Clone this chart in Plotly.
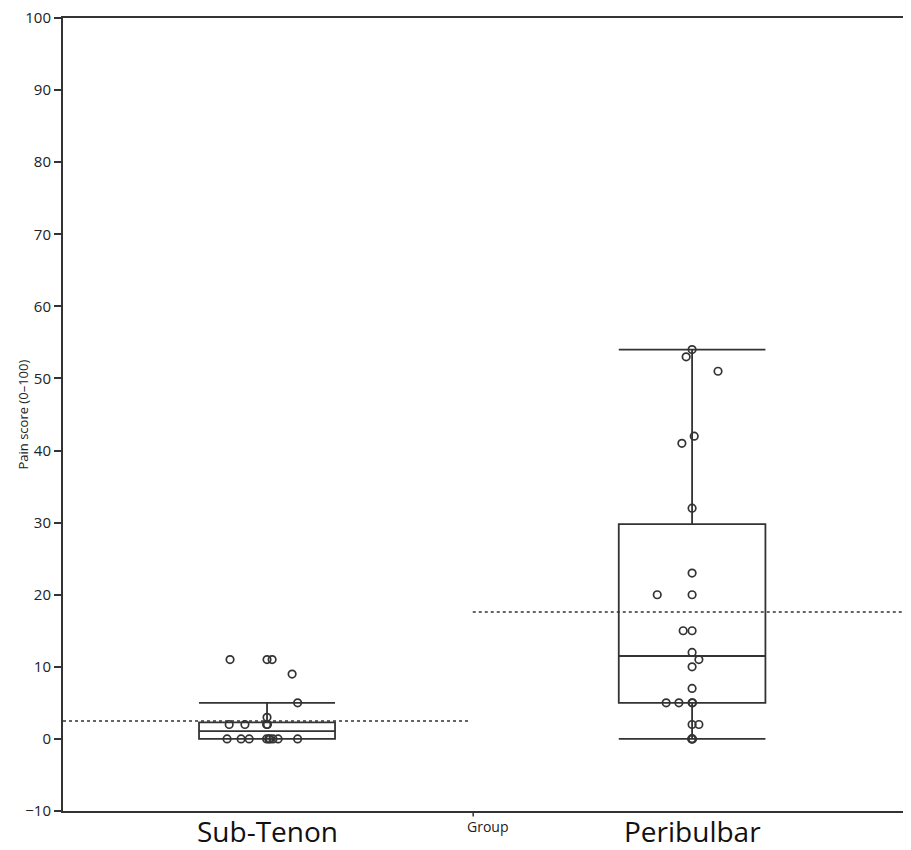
import plotly.graph_objects as go

# ---- data ----
groups = ["Sub-Tenon", "Peribulbar"]
group_pos = [0, 1]

subtenon_scores = [11, 11, 11, 9, 5, 3, 2, 2, 2, 2, 0, 0, 0, 0, 0, 0, 0, 0, 0]
subtenon_jitter = [-0.087, 0.0, 0.012, 0.059, 0.072, 0.0, -0.089, -0.052, -0.001, 0.001,
                   -0.094, -0.061, -0.042, -0.001, 0.004, 0.007, 0.014, 0.026, 0.072]

peribulbar_scores = [54, 53, 51, 42, 41, 32, 23, 20, 20, 15, 15, 12, 11, 10, 7,
                     5, 5, 5, 5, 2, 2, 0, 0, 0]
peribulbar_jitter = [0.0, -0.014, 0.061, 0.005, -0.024, 0.0, 0.0, -0.082, 0.0, -0.021,
                     0.0, 0.0, 0.016, 0.0, 0.0, -0.061, -0.031, 0.0, 0.001, 0.0,
                     0.016, 0.0, 0.001, -0.001]

# box statistics (as drawn)
q1 = [0, 5]
median = [1.07, 11.5]
q3 = [2.3, 29.8]
lower_whisker = [0, 0]
upper_whisker = [5, 54]
means = [2.5, 17.6]

y_ticks = [-10, 0, 10, 20, 30, 40, 50, 60, 70, 80, 90, 100]

# ---- styling ----
INK = "#333333"
FONT = "Open Sans"
X_RANGE = [-0.48, 1.515]
SPLIT = 0.48
box_widths = [0.32, 0.345]

fig = go.Figure()

for i in range(2):
    fig.add_trace(go.Box(
        x=[group_pos[i]], q1=[q1[i]], median=[median[i]], q3=[q3[i]],
        lowerfence=[lower_whisker[i]], upperfence=[upper_whisker[i]],
        width=box_widths[i], whiskerwidth=1, boxpoints=False,
        line=dict(color=INK, width=1.8), fillcolor="rgba(0,0,0,0)",
        showlegend=False, hoverinfo="skip"))

# mean dotted lines
fig.add_trace(go.Scatter(x=[X_RANGE[0], SPLIT], y=[means[0], means[0]], mode="lines",
                         line=dict(color=INK, width=1.5, dash="dot"), showlegend=False))
fig.add_trace(go.Scatter(x=[SPLIT + 0.004, X_RANGE[1]], y=[means[1], means[1]], mode="lines",
                         line=dict(color=INK, width=1.5, dash="dot"), showlegend=False))

marker = dict(symbol="circle-open", size=7.5, color=INK, line=dict(width=1.7, color=INK))
fig.add_trace(go.Scatter(x=[group_pos[0] + j for j in subtenon_jitter], y=subtenon_scores,
                         mode="markers", marker=marker, showlegend=False))
fig.add_trace(go.Scatter(x=[group_pos[1] + j for j in peribulbar_jitter], y=peribulbar_scores,
                         mode="markers", marker=marker, showlegend=False))

# small tick on x axis near "Group"
fig.add_shape(type="line", xref="x", yref="paper", x0=0.485, x1=0.485, y0=0, y1=-0.007,
              line=dict(color=INK, width=1.5))

# group labels (category names) under the axis
for pos, name in zip(group_pos, groups):
    fig.add_annotation(text=name, xref="x", yref="paper", x=pos, y=-0.0252,
                       xanchor="center", yanchor="middle", showarrow=False,
                       borderpad=0,
                       font=dict(family=FONT, size=28, color="#111"))

fig.add_annotation(text="Group", xref="paper", yref="paper", x=0.5, y=-0.019,
                   xanchor="center", yanchor="middle", showarrow=False,
                   font=dict(family=FONT, size=14, color="#222"))
fig.add_annotation(text="Pain score (0\u2013100)", xref="paper", yref="paper",
                   x=-0.0483, y=0.5, xanchor="center", yanchor="middle",
                   textangle=-90, showarrow=False,
                   font=dict(family=FONT, size=13, color="#222"))

# page body adds an 8px offset, so the figure is sized 8px smaller
fig.update_layout(
    width=903, height=842,
    margin=dict(l=55, r=0, t=10, b=39, pad=0, autoexpand=False),
    plot_bgcolor="white", paper_bgcolor="white",
    font=dict(family=FONT, color="#222"),
    xaxis=dict(range=X_RANGE, tickvals=group_pos, showticklabels=False, ticks="",
               showline=True, mirror=True, linecolor=INK, linewidth=2,
               showgrid=False, zeroline=False, automargin=False),
    yaxis=dict(range=[-10, 100], tickvals=y_ticks, ticks="outside", ticklen=7,
               tickwidth=1.5, tickcolor=INK, showline=True, linecolor=INK, linewidth=2,
               showgrid=False, zeroline=False, automargin=False,
               ticklabeloverflow="allow",
               tickfont=dict(family=FONT, size=15, color="#222")),
)

fig.write_html("out.html")
